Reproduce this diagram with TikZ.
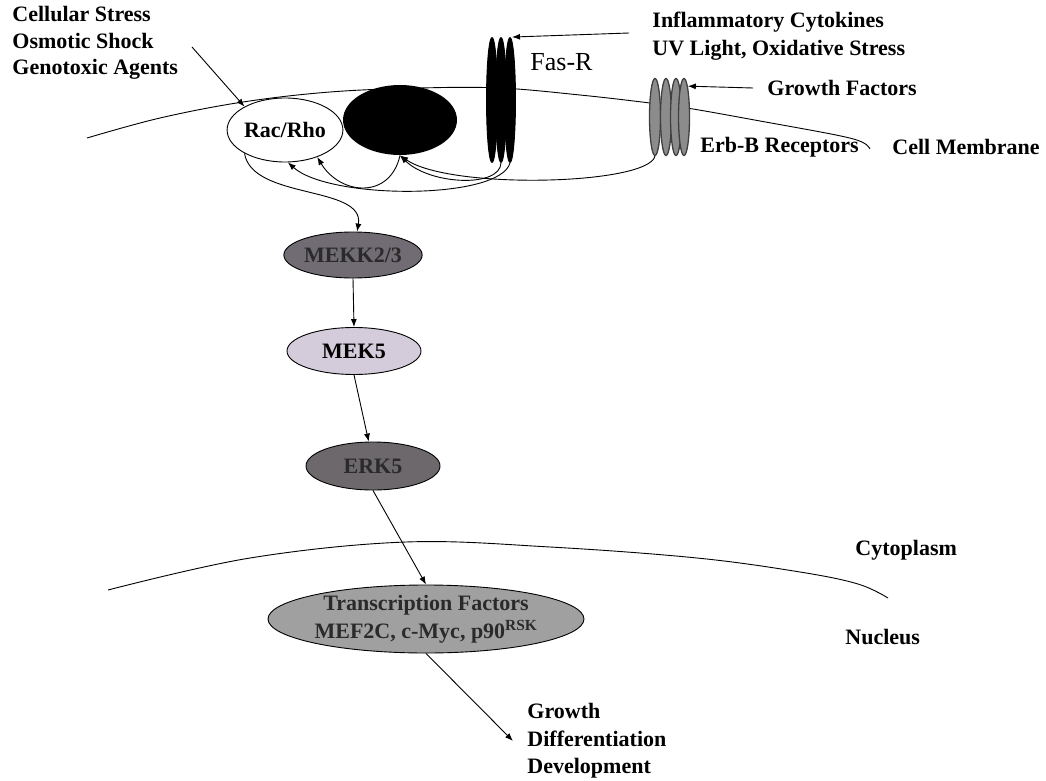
\documentclass[tikz,border=0pt]{standalone}
\usepackage{fontspec}
\setmainfont{Liberation Serif}
\usetikzlibrary{shapes.geometric,arrows.meta}
\definecolor{mekkfill}{HTML}{716B74}
\definecolor{mekfill}{HTML}{D4CCDA}
\definecolor{erkfill}{HTML}{6C686B}
\definecolor{tffill}{HTML}{A0A0A0}
\definecolor{erbgray}{HTML}{8C8C8C}
\definecolor{darktxt}{HTML}{2A2A2A}

\begin{document}
\begin{tikzpicture}[x=1pt, y=-1pt, line width=0.9pt,
  lbl/.style={font=\fontsize{22}{26.5}\selectfont\bfseries, align=left, anchor=west, inner sep=0pt},
  kinase/.style={ellipse, draw, inner sep=0pt, font=\fontsize{22}{28}\selectfont\bfseries},
  fasbar/.style={ellipse, fill=black, draw=black, minimum width=11pt, minimum height=125pt, inner sep=0pt},
  erbbar/.style={ellipse, fill=erbgray, draw=black!75, line width=1.3pt, minimum width=11pt, minimum height=77pt, inner sep=0pt},
  arr/.style={-{Latex[length=8pt,width=6pt]}}]
\useasboundingbox (0,0) rectangle (1046,781);
% cell membrane and nuclear envelope
\draw plot[smooth, tension=0.6] coordinates {(87,138) (160,118) (243,102) (330,92) (420,88) (500,88) (580,95) (650,103) (693,109) (760,121) (836,135) (862,142) (870,149)};
\draw plot[smooth, tension=0.6] coordinates {(108,590) (250,558) (406,542) (550,547) (697,558) (800,572) (858,584) (888,598)};
% membrane proteins
\node[kinase, fill=white, minimum width=114pt, minimum height=64pt] (rac) at (285,130) {Rac/Rho};
\node[ellipse, fill=black, minimum width=114pt, minimum height=70pt] (blk) at (400,120) {};
\foreach \i/\x in {1/492,2/501,3/510}
  \node[fasbar] (fas\i) at (\x,100) {};
\foreach \i/\x in {1/655,2/666,3/676,4/684}
  \node[erbbar] (erb\i) at (\x,117) {};
% kinase cascade
\node[kinase, fill=mekkfill, text=darktxt, minimum width=132pt, minimum height=46pt] (mekk) at (353,255) {MEKK2/3};
\node[kinase, fill=mekfill, minimum width=134pt, minimum height=47pt] (mek) at (354,351) {MEK5};
\node[kinase, fill=erkfill, text=darktxt, minimum width=134pt, minimum height=48pt] (erk) at (373,466) {ERK5};
\node[kinase, fill=tffill, text=darktxt, align=center, minimum width=316pt, minimum height=68pt] (tf) at (426,619) {Transcription Factors\\MEF2C, c-Myc, p90\textsuperscript{RSK}};
% labels
\node[lbl] (stress) at (12,43) {Cellular Stress\\Osmotic Shock\\Genotoxic Agents};
\node[lbl, font=\fontsize{22}{28}\selectfont\bfseries] (infl) at (652,36) {Inflammatory Cytokines\\UV Light, Oxidative Stress};
\node[lbl, font=\fontsize{26}{30}\selectfont] (fasr) at (530,62) {Fas-R};
\node[lbl] (gf) at (767,88) {Growth Factors};
\node[lbl] (erbr) at (700,147) {Erb-B Receptors};
\node[lbl] (cellm) at (892,147) {Cell Membrane};
\node[lbl] (cyto) at (855,550) {Cytoplasm};
\node[lbl] (nucl) at (845,637) {Nucleus};
\node[lbl, font=\fontsize{22}{27.5}\selectfont\bfseries] (out) at (527,741) {Growth\\Differentiation\\Development};
\coordinate (stressend) at (192,47);
\coordinate (inflend) at (629,33);
\coordinate (gfend) at (753,88);
% signals
\draw[arr] (stressend) -- (rac.150);
\draw[arr] (inflend) -- ([xshift=2pt]fas3.north);
\draw[arr] (gfend) -- (erb4.83);
\draw[arr] (fas2.south) .. controls (500,188) and (430,185) .. (blk.south);
\draw[arr] (erb1.south) .. controls (648,185) and (450,190) .. (blk.south);
\draw[arr] (fas3.south) .. controls (500,200) and (330,200) .. (rac.-85);
\draw[arr] (blk.south) .. controls (390,200) and (340,195) .. (rac.-40);
\draw[arr] (rac.-150) .. controls (252,200) and (365,185) .. (mekk.80);
\draw[arr] (mekk.south) -- (mek.north);
\draw[arr] (mek.south) -- (erk.100);
\draw[arr] (erk.south) -- (tf.north);
\draw[arr] (tf.south) -- ([xshift=-14pt]out.west);
\end{tikzpicture}
\end{document}
